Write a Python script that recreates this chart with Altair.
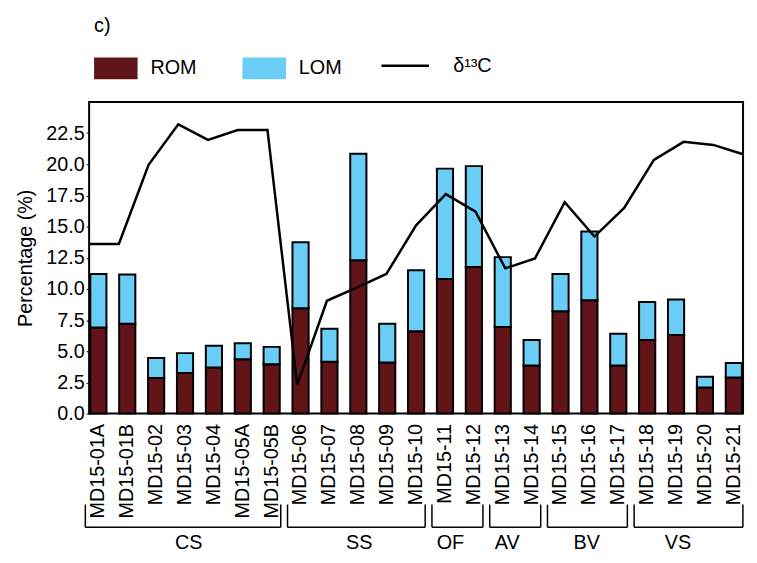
import altair as alt
import pandas as pd

samples = ["MD15-01A", "MD15-01B", "MD15-02", "MD15-03", "MD15-04", "MD15-05A", "MD15-05B",
           "MD15-06", "MD15-07", "MD15-08", "MD15-09", "MD15-10",
           "MD15-11", "MD15-12", "MD15-13", "MD15-14", "MD15-15", "MD15-16", "MD15-17",
           "MD15-18", "MD15-19", "MD15-20", "MD15-21"]
rom = [6.9, 7.2, 2.85, 3.25, 3.7, 4.35, 3.95, 8.45, 4.15, 12.3, 4.1, 6.6,
       10.8, 11.75, 6.95, 3.85, 8.2, 9.1, 3.85, 5.9, 6.3, 2.1, 2.9]
lom = [4.3, 3.95, 1.6, 1.6, 1.75, 1.3, 1.4, 5.3, 2.65, 8.55, 3.1, 4.9,
       8.85, 8.1, 5.6, 2.05, 3.0, 5.5, 2.55, 3.05, 2.85, 0.85, 1.15]
d13c = [13.6, 13.6, 19.95, 23.2, 21.95, 22.75, 22.75, 2.3, 9.05, 10.1, 11.2, 15.1,
        17.6, 16.2, 11.65, 12.45, 16.95, 14.2, 16.5, 20.35, 21.8, 21.55, 20.8]

group_names = ["CS", "SS", "OF", "AV", "BV", "VS"]
group_first = ["MD15-01A", "MD15-06", "MD15-11", "MD15-13", "MD15-15", "MD15-18"]
group_last = ["MD15-05B", "MD15-10", "MD15-12", "MD15-14", "MD15-17", "MD15-21"]
group_mid = ["MD15-03", "MD15-08", "MD15-11", "MD15-13", "MD15-16", "MD15-19"]
group_even = [False, False, True, True, False, True]

y_ticks = [0, 2.5, 5, 7.5, 10, 12.5, 15, 17.5, 20, 22.5]

FONT = "Liberation Sans"

rows = []
for s, r, l in zip(samples, rom, lom):
    rows.append({"sample": s, "component": "ROM", "value": r, "ord": 0})
    rows.append({"sample": s, "component": "LOM", "value": l, "ord": 1})
bar_df = pd.DataFrame(rows)
line_df = pd.DataFrame({"idx": list(range(len(samples))), "d13c": d13c,
                        "series": ["δ¹³C"] * len(samples)})
grp_df = pd.DataFrame({"group": group_names, "first": group_first, "last": group_last,
                       "mid": group_mid, "even": group_even})


def xs():
    return alt.Scale(domain=samples, paddingInner=0.44, paddingOuter=0.04)


def y_axis():
    return alt.Axis(values=y_ticks, format=".1f", title="Percentage (%)",
                    titleFontSize=20, titleFontWeight="normal", titleColor="black",
                    labelFontSize=20, labelColor="black", tickSize=3, tickColor="black",
                    labelPadding=2, domain=False, grid=False, titlePadding=10,
                    labelOverlap=False, labelFont=FONT, titleFont=FONT)


ys = alt.Scale(domain=[0, 25], nice=False)

bars = alt.Chart(bar_df).mark_bar(stroke="black", strokeWidth=2).encode(
    x=alt.X("sample:N", scale=xs(), sort=samples,
            axis=alt.Axis(title=None, labelAngle=270, labelAlign="right", labelBaseline="middle",
                          labelFontSize=20, labelColor="black", labelPadding=10,
                          labelOverlap=False, ticks=False, domain=False, labelFont=FONT,
                          orient="bottom")),
    y=alt.Y("value:Q", stack="zero", scale=ys, axis=y_axis()),
    color=alt.Color("component:N",
                    scale=alt.Scale(domain=["ROM", "LOM"], range=["#621518", "#6acdf5"]),
                    legend=alt.Legend(title=None, orient="none", legendX=5, legendY=-56,
                                      direction="horizontal",
                                      symbolType="M-1,-0.5H1V0.5H-1Z", symbolSize=1936,
                                      symbolStrokeWidth=0, symbolOpacity=1,
                                      labelFontSize=20, labelFont=FONT, labelColor="black",
                                      labelOffset=13, columnPadding=46)),
    order=alt.Order("ord:Q"),
)

left_rule = alt.Chart(grp_df).mark_rule(color="black", strokeWidth=1.5, xOffset=-5).encode(
    x=alt.X("first:N", scale=xs(), bandPosition=0, axis=None),
    y=alt.value(407), y2=alt.value(430))
right_rule = alt.Chart(grp_df).mark_rule(color="black", strokeWidth=1.5, xOffset=1).encode(
    x=alt.X("last:N", scale=xs(), bandPosition=1, axis=None),
    y=alt.value(407), y2=alt.value(430))
bottom_rule = alt.Chart(grp_df).mark_rule(color="black", strokeWidth=1.5,
                                          xOffset=-5, x2Offset=1).encode(
    x=alt.X("first:N", scale=xs(), bandPosition=0, axis=None),
    x2=alt.X2("last:N", bandPosition=1),
    y=alt.value(430))

odd_text = alt.Chart(grp_df).transform_filter("!datum.even").mark_text(
    fontSize=20, font=FONT, color="black", baseline="middle", align="center").encode(
    x=alt.X("mid:N", scale=xs(), bandPosition=0.5, axis=None),
    y=alt.value(446), text="group:N")
even_text = alt.Chart(grp_df).transform_filter("datum.even").mark_text(
    fontSize=20, font=FONT, color="black", baseline="middle", align="center", dx=6).encode(
    x=alt.X("mid:N", scale=xs(), bandPosition=1, axis=None),
    y=alt.value(446), text="group:N")

line = alt.Chart(line_df).mark_line(strokeWidth=2.5).encode(
    x=alt.X("idx:Q", scale=alt.Scale(domain=[0, 22], nice=False, zero=False), axis=None),
    y=alt.Y("d13c:Q", scale=ys, axis=y_axis()),
    stroke=alt.Stroke("series:N", scale=alt.Scale(domain=["δ¹³C"], range=["black"]),
                      legend=alt.Legend(title=None, orient="none", legendX=294, legendY=-62,
                                        symbolType="stroke", symbolSize=2304,
                                        symbolStrokeWidth=2.5,
                                        labelFontSize=20, labelFont=FONT, labelColor="black",
                                        labelOffset=23)),
)

chart = alt.layer(bars, left_rule, right_rule, bottom_rule, odd_text, even_text, line
                  ).resolve_scale(x="independent").properties(
    width=661, height=315,
    title=alt.Title("c)", anchor="start", frame="group", dx=5, fontSize=20,
                    fontWeight="normal", font=FONT, color="black", offset=5),
    autosize=alt.AutoSizeParams(type="none"),
    padding={"left": 82, "top": 92, "right": 6, "bottom": 140},
).configure(font=FONT).configure_view(stroke="black", strokeWidth=2)

chart.save("out.html", embed_options={"renderer": "svg", "actions": False})
